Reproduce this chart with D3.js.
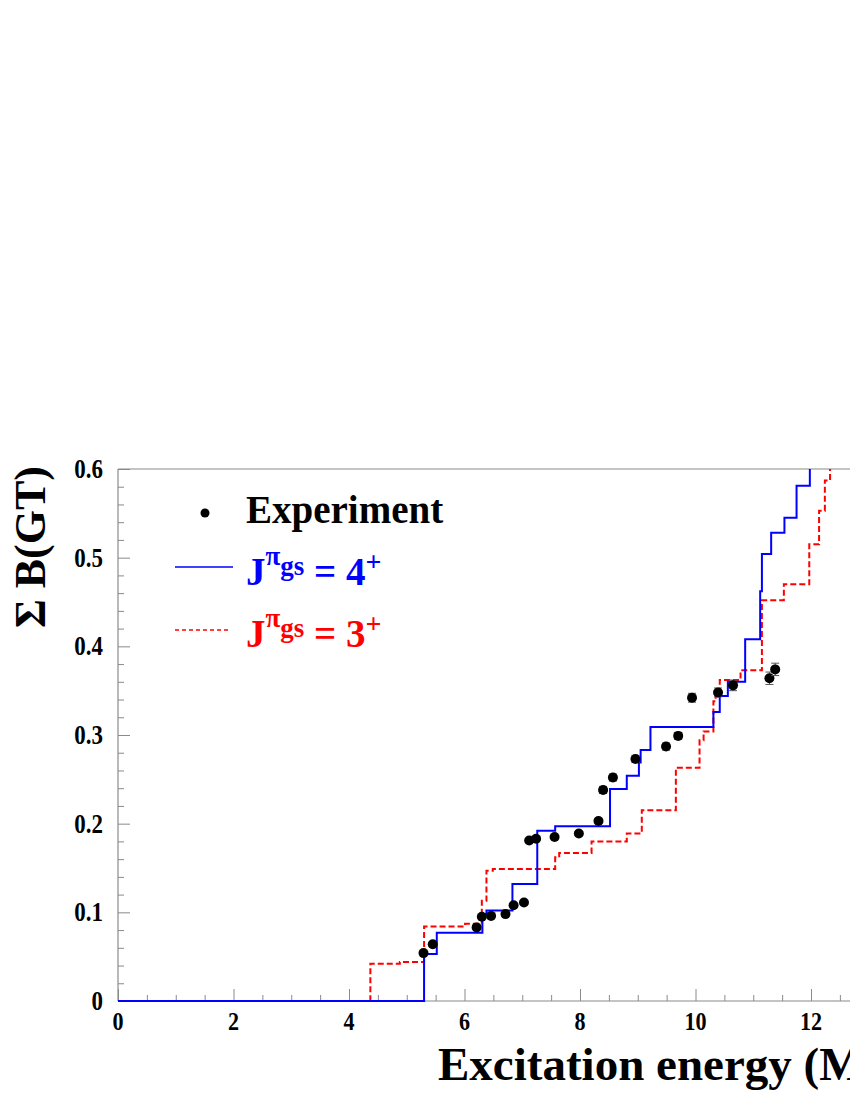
<!DOCTYPE html>
<html>
<head>
<meta charset="utf-8">
<script src="https://cdn.jsdelivr.net/npm/d3@7"></script>
<style>
  html, body { margin: 0; padding: 0; background: #fff; }
  svg { display: block; }
  text { font-family: "Liberation Serif", "Times New Roman", serif; font-weight: bold; }
</style>
</head>
<body>
<svg id="chart" width="850" height="1100"></svg>
<script>
// experimental points: excitation energy (MeV), summed B(GT), error
const expE   = [5.29, 5.45, 6.21, 6.30, 6.46, 6.71, 6.85, 7.03, 7.12, 7.24, 7.56, 7.98, 8.32,
                8.40, 8.57, 8.96, 9.49, 9.70, 9.94, 10.39, 10.65, 11.28, 11.38];
const expB   = [0.054, 0.064, 0.083, 0.095, 0.096, 0.098, 0.108, 0.111, 0.181, 0.183, 0.185, 0.189, 0.203,
                0.238, 0.252, 0.273, 0.287, 0.299, 0.342, 0.348, 0.356, 0.364, 0.374];
const expErr = [0.002, 0.002, 0.002, 0.002, 0.002, 0.002, 0.002, 0.002, 0.002, 0.002, 0.002, 0.002, 0.003,
                0.004, 0.004, 0.004, 0.004, 0.004, 0.005, 0.005, 0.006, 0.007, 0.007];

// shell model, J = 4+ ground state (step starts at each energy)
const j4E = [0, 5.30, 5.52, 6.31, 6.38, 6.83, 7.26, 7.57, 8.52, 8.81, 9.02, 9.05, 9.22,
             10.31, 10.42, 10.56, 10.86, 11.12, 11.15, 11.31, 11.54, 11.75, 11.98, 13];
const j4B = [0, 0.053, 0.077, 0.098, 0.102, 0.132, 0.192, 0.197, 0.239, 0.254, 0.269, 0.283, 0.309,
             0.326, 0.344, 0.360, 0.408, 0.462, 0.504, 0.528, 0.545, 0.581, 0.64, 0.64];

// shell model, J = 3+ ground state
const j3E = [0, 4.37, 4.88, 5.30, 6.01, 6.30, 6.38, 6.49, 7.57, 7.64, 8.20, 8.81, 9.07, 9.66,
             10.07, 10.14, 10.31, 10.35, 10.42, 10.78, 11.15, 11.53, 11.97, 12.14, 12.24, 12.33, 13];
const j3B = [0, 0.042, 0.044, 0.084, 0.087, 0.113, 0.147, 0.149, 0.162, 0.167, 0.180, 0.189, 0.215, 0.263,
             0.294, 0.304, 0.338, 0.348, 0.362, 0.373, 0.452, 0.470, 0.515, 0.553, 0.587, 0.64, 0.64];

const xTicks = [0, 2, 4, 6, 8, 10, 12];
const yTicks = [0, 0.1, 0.2, 0.3, 0.4, 0.5, 0.6];
const yTickLabels = ['0', '0.1', '0.2', '0.3', '0.4', '0.5', '0.6'];

// plot frame (right side runs past the page edge)
const margin = { l: 118, t: 469, b: 1001 };
const axisGrey = '#8a8a8a';

const svg = d3.select('#chart');
svg.append('rect').attr('width', 850).attr('height', 1100).attr('fill', '#fff');

const xScale = d3.scaleLinear().domain([0, 14]).range([margin.l, margin.l + 14 * 57.75]);
const yScale = d3.scaleLinear().domain([0, 0.6]).range([margin.b, margin.t]);

svg.append('clipPath').attr('id', 'plotClip')
  .append('rect')
  .attr('x', margin.l).attr('y', margin.t)
  .attr('width', 900).attr('height', margin.b - margin.t + 2);

// axes: ticks drawn inside the frame
const xAxis = d3.axisTop(xScale)
  .tickValues(d3.range(0, 14.01, 0.5))
  .tickSize(0)
  .tickFormat('');
const gx = svg.append('g').attr('transform', `translate(0,${margin.b})`).call(xAxis);
gx.select('.domain').remove();
gx.selectAll('.tick line')
  .attr('stroke', axisGrey)
  .attr('y2', d => (d % 2 === 0 ? -12 : -6));

const yAxis = d3.axisRight(yScale)
  .tickValues(d3.range(0, 0.601, 0.02))
  .tickSize(0)
  .tickFormat('');
const gy = svg.append('g').attr('transform', `translate(${margin.l},0)`).call(yAxis);
gy.select('.domain').remove();
gy.selectAll('.tick line')
  .attr('stroke', axisGrey)
  .attr('x2', d => (Math.abs(d * 10 - Math.round(d * 10)) < 1e-6 ? 12 : 6));

// frame lines
svg.append('line')
  .attr('x1', margin.l).attr('x2', 850).attr('y1', margin.b).attr('y2', margin.b)
  .attr('stroke', axisGrey).attr('stroke-width', 1.2);
svg.append('line')
  .attr('x1', margin.l).attr('x2', 850).attr('y1', margin.t).attr('y2', margin.t)
  .attr('stroke', axisGrey).attr('stroke-width', 1.2);
svg.append('line')
  .attr('x1', margin.l).attr('x2', margin.l).attr('y1', margin.t).attr('y2', margin.b)
  .attr('stroke', axisGrey).attr('stroke-width', 1.2);

// tick labels (slightly condensed, like the original)
svg.append('g').selectAll('text')
  .data(xTicks)
  .join('text')
  .attr('transform', d => `translate(${xScale(d)},1030) scale(0.85,1)`)
  .attr('text-anchor', 'middle')
  .attr('font-size', 26)
  .text(d => d);

svg.append('g').selectAll('text')
  .data(yTicks)
  .join('text')
  .attr('transform', d => `translate(103,${yScale(d) + 9}) scale(0.85,1)`)
  .attr('text-anchor', 'end')
  .attr('font-size', 27)
  .text((d, i) => yTickLabels[i]);

// axis titles
svg.append('text')
  .attr('x', 438).attr('y', 1080)
  .attr('font-size', 47)
  .text('Excitation energy (MeV)');

svg.append('text')
  .attr('transform', 'translate(45,466) rotate(-90)')
  .attr('text-anchor', 'end')
  .attr('font-size', 44)
  .text('\u03A3 B(GT)');

// step curves
const plot = svg.append('g').attr('clip-path', 'url(#plotClip)');

const step = d3.line()
  .x(d => xScale(d[0]))
  .y(d => yScale(d[1]))
  .curve(d3.curveStepAfter);

plot.append('path')
  .attr('d', step(d3.zip(j3E, j3B)))
  .attr('fill', 'none')
  .attr('stroke', '#ff0000')
  .attr('stroke-width', 2)
  .attr('stroke-dasharray', '6,3');

plot.append('path')
  .attr('d', step(d3.zip(j4E, j4B)))
  .attr('fill', 'none')
  .attr('stroke', '#0000ff')
  .attr('stroke-width', 2);

// experiment with error bars
const pts = plot.append('g').selectAll('g')
  .data(d3.range(expE.length))
  .join('g');

pts.append('line')
  .attr('x1', i => xScale(expE[i])).attr('x2', i => xScale(expE[i]))
  .attr('y1', i => yScale(expB[i] - expErr[i])).attr('y2', i => yScale(expB[i] + expErr[i]))
  .attr('stroke', '#555').attr('stroke-width', 1);
[-1, 1].forEach(s => {
  pts.append('line')
    .attr('x1', i => xScale(expE[i]) - 4).attr('x2', i => xScale(expE[i]) + 4)
    .attr('y1', i => yScale(expB[i] + s * expErr[i])).attr('y2', i => yScale(expB[i] + s * expErr[i]))
    .attr('stroke', '#555').attr('stroke-width', 1);
});
pts.append('circle')
  .attr('cx', i => xScale(expE[i]))
  .attr('cy', i => yScale(expB[i]))
  .attr('r', 5)
  .attr('fill', '#000');

// legend
const legend = svg.append('g');
legend.append('circle').attr('cx', 205).attr('cy', 513).attr('r', 4.5).attr('fill', '#000');
legend.append('text').attr('x', 246).attr('y', 523).attr('font-size', 39).text('Experiment');

legend.append('line')
  .attr('x1', 175).attr('x2', 233).attr('y1', 567).attr('y2', 567)
  .attr('stroke', '#0000ff').attr('stroke-width', 1.5);
legend.append('line')
  .attr('x1', 175).attr('x2', 231).attr('y1', 630).attr('y2', 630)
  .attr('stroke', '#ff0000').attr('stroke-width', 1.5).attr('stroke-dasharray', '4,3');

function spinLabel(y, colour, spin) {
  const t = legend.append('text').attr('x', 246).attr('y', y).attr('fill', colour).attr('font-size', 39);
  t.append('tspan').text('J');
  t.append('tspan').attr('font-size', 27).attr('dy', -20).text('\u03C0');
  t.append('tspan').attr('font-size', 27).attr('dy', 10).text('gs');
  t.append('tspan').attr('font-size', 39).attr('dy', 10).text(' = ' + spin);
  t.append('tspan').attr('font-size', 28).attr('dy', -14).text('+');
}
spinLabel(585, '#0000ff', '4');
spinLabel(647, '#ff0000', '3');
</script>
</body>
</html>
